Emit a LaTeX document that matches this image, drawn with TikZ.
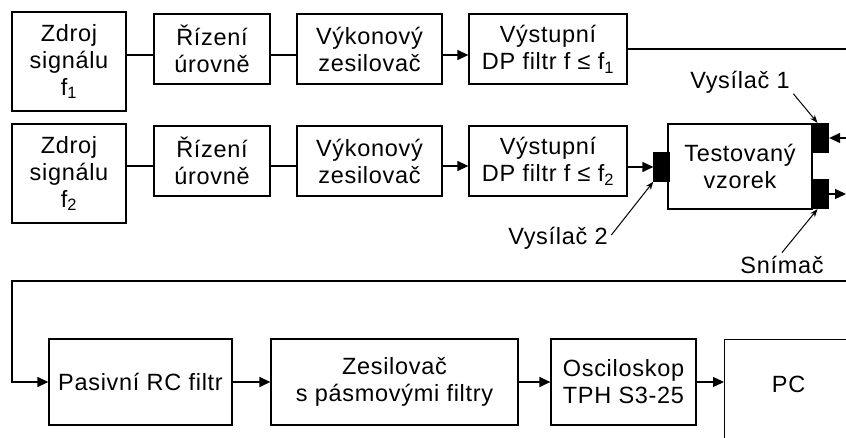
\documentclass[tikz,border=0pt]{standalone}
\usepackage{fontspec}
\setmainfont{Liberation Sans}[LetterSpace=3]
\usetikzlibrary{arrows.meta}

\begin{document}
\begin{tikzpicture}[x=1pt,y=1pt,
  font=\fontsize{23.5}{27}\selectfont,
  line width=1.3pt,
  blok/.style={draw, align=center, inner sep=0pt},
  cerny/.style={draw, fill=black, inner sep=0pt, minimum width=16pt, minimum height=29pt},
  sip/.style={-{Triangle[length=11pt,width=10pt]}},
  ukaz/.style={line width=1pt, -{Stealth[length=8pt,width=6pt]}},
  popis/.style={inner sep=0pt}]
\useasboundingbox (0,0) rectangle (846,437);
\clip (0,0) rectangle (846,437);

\draw (69,375.5) node[blok, minimum width=114pt, minimum height=99pt] (z1) {Zdroj\\signálu\\f\textsubscript{1}} ;
\draw (212,388) node[blok, minimum width=116pt, minimum height=70pt] (r1) {Řízení\\úrovně} ;
\draw (369.5,388) node[blok, minimum width=145pt, minimum height=70pt] (v1) {Výkonový\\zesilovač} ;
\draw (548,388) node[blok, minimum width=158pt, minimum height=70pt] (f1) {Výstupní\\DP filtr f ≤ f\textsubscript{1}} ;
\draw[sip] ([yshift=6.5pt]z1.east) to ([yshift=-6pt]r1.west)
  ([yshift=-6pt]r1.east) to ([yshift=-6pt]v1.west)
  ([yshift=-6pt]v1.east) to ([yshift=-6pt]f1.west) ;

\draw (69,263.5) node[blok, minimum width=114pt, minimum height=99pt] (z2) {Zdroj\\signálu\\f\textsubscript{2}} ;
\draw (212,276) node[blok, minimum width=116pt, minimum height=70pt] (r2) {Řízení\\úrovně} ;
\draw (369.5,276) node[blok, minimum width=145pt, minimum height=70pt] (v2) {Výkonový\\zesilovač} ;
\draw (548,276) node[blok, minimum width=158pt, minimum height=70pt] (f2) {Výstupní\\DP filtr f ≤ f\textsubscript{2}} ;
\draw[sip] ([yshift=7.5pt]z2.east) to ([yshift=-5pt]r2.west)
  ([yshift=-5pt]r2.east) to ([yshift=-5pt]v2.west)
  ([yshift=-5pt]v2.east) to ([yshift=-5pt]f2.west) ;

\draw (740,270.5) node[blok, minimum width=144pt, minimum height=85pt] (vzorek) {Testovaný\\vzorek} ;
\draw (661.5,270) node[cerny, minimum width=15pt, minimum height=28pt] (v2blk) {} ;
\draw (820.5,299) node[cerny] (v1blk) {} ;
\draw (820.5,243) node[cerny] (snblk) {} ;
\draw[sip] (f2.east |- v2blk.west) to (v2blk.west) ;

\coordinate (o1) at (847,388) ;
\coordinate (o2) at (846,299) ;
\coordinate (o3) at (846,243) ;
\coordinate (o4) at (847,156) ;
\coordinate (roh) at (12,156) ;
\draw (f1.east) to (o1) ;
\draw[sip] (o2) to (v1blk.east) ;
\draw[sip] (snblk.east) to (o3) ;

\draw (740,355) node[popis] (lv1) {Vysílač 1} ;
\draw (558,199) node[popis] (lv2) {Vysílač 2} ;
\draw (782,172) node[popis] (lsn) {Snímač} ;
\draw[ukaz] ([xshift=3pt]lv1.south east) to ([xshift=-3pt]v1blk.north) ;
\draw[ukaz] ([xshift=3pt,yshift=3pt]lv2.east) to (v2blk.south west) ;
\draw[ukaz] ([yshift=3pt]lsn.north) to ([xshift=-3pt]snblk.south) ;

\draw (140.5,55) node[blok, minimum width=183pt, minimum height=86pt] (pas) {Pasivní RC filtr} ;
\draw (394.5,55) node[blok, minimum width=247pt, minimum height=86pt] (zes) {Zesilovač\\s pásmovými filtry} ;
\draw (623.5,55) node[blok, minimum width=145pt, minimum height=86pt] (osc) {Osciloskop\\TPH S3-25} ;
\draw (724,98) node[blok, anchor=north west, minimum width=128pt, text height=53pt, text depth=100pt] (pc) {PC} ;
\draw[sip] (o4) to (roh) |- (pas.west) ;
\draw[sip] (pas) to (zes) ;
\draw[sip] (zes) to (osc) ;
\draw[sip] (osc) to (pc.west |- osc) ;

\end{tikzpicture}
\end{document}
